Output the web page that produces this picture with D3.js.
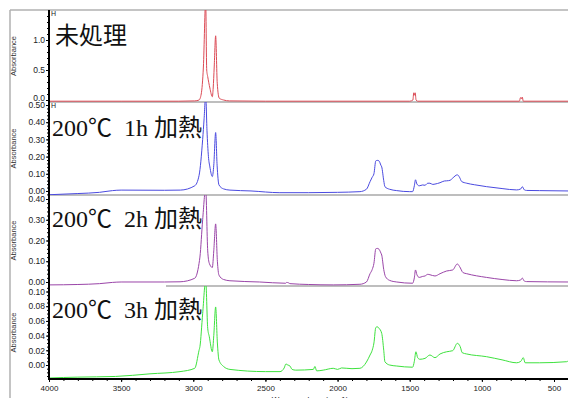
<!DOCTYPE html>
<html><head><meta charset="utf-8">
<script src="https://cdn.jsdelivr.net/npm/d3@7"></script>
<style>body{margin:0;background:#fff}svg{display:block}</style>
</head><body>
<svg id="c" width="568" height="398"></svg>
<script>
// ---------- data ----------
const panelLabels = ["未処理", "200℃  1h 加熱", "200℃  2h 加熱", "200℃  3h 加熱"];
const xTicks = [4000, 3500, 3000, 2500, 2000, 1500, 1000, 500];

const redWn  = [4000,3500,3100,2990,2960,2945,2930,2914,2907,2900,2885,2868,2862,2855,2845,2834,2820,2790,2750,2500,1500,1478,1472,1467,1462,1456,1445,740,732,726,720,713,400];
const redAbs = [-0.02,-0.02,-0.02,-0.015,0.0,0.1,0.55,1.65,0.5,0.39,0.2,0.055,0.2,0.55,1.07,0.28,0.03,0.0,-0.015,-0.02,-0.02,0.0,0.12,0.08,0.12,0.0,-0.02,-0.02,0.04,0.02,0.05,-0.02,-0.02];

const blueWn  = [4000,3800,3650,3560,3500,3200,3090,2990,2960,2935,2925,2914,2905,2895,2885,2868,2858,2845,2835,2822,2790,2746,2600,2400,2200,2000,1845,1800,1775,1760,1748,1735,1725,1713,1700,1694,1680,1672,1640,1590,1500,1480,1468,1460,1450,1434,1410,1394,1375,1360,1340,1325,1290,1260,1244,1220,1202,1170,1155,1140,1105,1050,967,860,759,730,720,705,690,600,400];
const blueAbs = [-0.022,-0.015,-0.008,0.002,0.005,0.004,0.005,0.03,0.09,0.3,0.42,0.56,0.35,0.2,0.14,0.084,0.15,0.34,0.15,0.035,0.012,0.005,0.0,-0.01,-0.01,-0.008,-0.004,0.01,0.054,0.08,0.1,0.175,0.178,0.175,0.15,0.14,0.06,0.025,0.01,0.002,-0.004,-0.004,0.03,0.065,0.04,0.03,0.035,0.033,0.045,0.045,0.038,0.04,0.048,0.058,0.059,0.062,0.075,0.094,0.08,0.055,0.045,0.036,0.025,0.014,0.006,0.012,0.025,0.006,0.003,0.002,0.0];

const purpleWn  = [4000,3800,3650,3560,3500,3200,3092,2990,2960,2954,2935,2914,2900,2889,2868,2858,2845,2833,2822,2790,2746,2540,2360,2353,2340,2330,2200,2030,1845,1800,1775,1760,1748,1735,1725,1713,1700,1694,1680,1668,1640,1590,1480,1468,1460,1450,1434,1410,1394,1375,1360,1325,1290,1244,1202,1170,1155,1130,1105,967,860,759,730,720,705,690,400];
const purpleAbs = [-0.014,-0.012,-0.008,-0.002,0.0,0.0,0.001,0.018,0.09,0.12,0.3,0.45,0.15,0.09,0.07,0.15,0.28,0.1,0.033,0.012,0.006,0.0,-0.006,-0.002,-0.004,-0.008,-0.012,-0.014,-0.011,0.0,0.04,0.06,0.09,0.16,0.162,0.158,0.14,0.13,0.06,0.026,0.008,0.0,-0.006,0.02,0.058,0.035,0.022,0.027,0.029,0.037,0.035,0.029,0.04,0.053,0.058,0.087,0.075,0.045,0.04,0.022,0.012,0.006,0.01,0.019,0.004,0.002,0.0];

const greenWn  = [4000,3900,3800,3540,3300,3092,2990,2960,2954,2935,2914,2900,2889,2868,2858,2845,2833,2822,2790,2746,2500,2399,2370,2358,2345,2330,2315,2290,2168,2157,2145,2100,2030,2000,1972,1900,1845,1800,1775,1760,1748,1735,1725,1713,1694,1680,1672,1640,1590,1480,1468,1457,1445,1430,1394,1360,1325,1290,1244,1202,1170,1150,1136,1105,967,860,759,730,713,700,600,412,400];
const greenAbs = [-0.0177,-0.017,-0.0165,-0.0156,-0.012,-0.009,-0.0045,0.02,0.025,0.07,0.115,0.05,0.0385,0.018,0.04,0.079,0.03,0.0068,-0.002,-0.006,-0.009,-0.009,-0.004,0.0014,0.0,-0.0014,-0.006,-0.007,-0.006,-0.002,-0.008,-0.007,-0.0045,-0.006,-0.004,-0.005,-0.0045,0.004,0.0136,0.02,0.03,0.051,0.052,0.05,0.043,0.02,0.0045,0.0,-0.0014,-0.003,0.005,0.018,0.01,0.0078,0.009,0.0136,0.01,0.015,0.018,0.0195,0.0295,0.025,0.0167,0.015,0.0113,0.007,0.003,0.005,0.01,0.003,0.003,0.0045,0.006];

const panelTicks = [[0, 0.5, 1.0], [0, 0.1, 0.2, 0.3, 0.4, 0.5], [0, 0.1, 0.2, 0.3, 0.4], [0, 0.02, 0.04, 0.06, 0.08, 0.10]];
const panelDomains = [[-0.0333, 1.5], [-0.0235, 0.5176], [-0.0193, 0.4193], [-0.01905, 0.1075]];

// ---------- layout ----------
const svg = d3.select("#c");
const L = 49, R = 568;
const bands = [[10, 102], [102, 195], [195, 286], [286, 379]];
const colors = ["#dc4a55", "#4a4ae0", "#9a45a8", "#3ee23e"];
const minorSteps = [0.1, 0.02, 0.02, 0.005];
const fmts = [d3.format(".1f"), d3.format(".2f"), d3.format(".2f"), d3.format(".2f")];
const labelBase = [44, 136, 227, 318];
const series = [[redWn, redAbs], [blueWn, blueAbs], [purpleWn, purpleAbs], [greenWn, greenAbs]];
const font = "Liberation Sans, Arial, sans-serif";

const x = d3.scaleLinear().domain([4000, 403]).range([L, R]);

// frame
svg.append("line").attr("x1", 10).attr("x2", 10).attr("y1", 10).attr("y2", 398).attr("stroke", "#b0b0b0").attr("stroke-width", 1.5);
svg.append("line").attr("x1", 10).attr("x2", R).attr("y1", 10).attr("y2", 10).attr("stroke", "#b0b0b0").attr("stroke-width", 1.5);

const defs = svg.append("defs");

bands.forEach((b, i) => {
  const y = d3.scaleLinear().domain(panelDomains[i]).range([b[1], b[0]]);
  defs.append("clipPath").attr("id", "cp" + i).append("rect")
    .attr("x", L).attr("y", b[0]).attr("width", R - L).attr("height", b[1] - b[0]);

  if (i < 3) {
    svg.append("line").attr("x1", i === 2 ? 166 : L).attr("x2", R)
      .attr("y1", b[1]).attr("y2", b[1]).attr("stroke", "#a8a8a8").attr("stroke-width", 1.5);
  }

  const pts = series[i][0].map((w, k) => [w, series[i][1][k]]);
  svg.append("path").datum(pts)
    .attr("clip-path", "url(#cp" + i + ")")
    .attr("fill", "none").attr("stroke", colors[i]).attr("stroke-width", 1)
    .attr("d", d3.line().x(d => x(d[0])).y(d => y(d[1])).curve(d3.curveMonotoneX));

  const lo = panelDomains[i][0], hi = panelDomains[i][1];
  const minor = d3.range(Math.ceil(lo / minorSteps[i]) * minorSteps[i], hi, minorSteps[i]);
  const ax = d3.axisLeft(y).tickValues(minor).tickSize(2).tickFormat("");
  svg.append("g").attr("transform", `translate(${L},0)`).call(ax)
    .call(g => g.select(".domain").remove())
    .selectAll("line").attr("stroke", "#000");
  const maj = d3.axisLeft(y).tickValues(panelTicks[i]).tickSize(3).tickFormat(fmts[i]).tickPadding(1);
  svg.append("g").attr("transform", `translate(${L},0)`).call(maj)
    .call(g => g.select(".domain").remove())
    .call(g => g.selectAll("text").attr("font-size", 8.5).attr("font-family", font).attr("fill", "#222"))
    .call(g => g.selectAll(".tick").filter(d => d === 0 && i === 0).select("text").attr("dy", "0.05em"));

  svg.append("text").attr("transform", `translate(16,${(b[0] + b[1]) / 2}) rotate(-90)`)
    .attr("text-anchor", "middle").attr("font-size", 7.5).attr("font-family", font)
    .attr("fill", "#333").text("Absorbance");

  svg.append("text").attr("x", i === 0 ? 55 : 52).attr("y", labelBase[i])
    .attr("font-size", 24).attr("font-family", i === 0 ? "Noto Sans CJK JP" : "Liberation Serif, 'Noto Sans CJK JP'")
    .attr("fill", "#111").style("white-space", "pre").text(panelLabels[i]);
});

// small H markers at panel tops
[[51, 16], [51, 108]].forEach(p => {
  svg.append("text").attr("x", p[0]).attr("y", p[1]).attr("font-size", 7)
    .attr("font-family", font).attr("fill", "#222").text("H");
});

// left axis thick line
svg.append("line").attr("x1", L).attr("x2", L).attr("y1", 10).attr("y2", 380).attr("stroke", "#000").attr("stroke-width", 2);

// bottom axis
const xb = d3.axisBottom(x).tickValues(d3.range(4000, 402, -100)).tickSize(2).tickFormat("");
svg.append("g").attr("transform", "translate(0,379)").call(xb)
  .call(g => g.select(".domain").remove());
const xm = d3.axisBottom(x).tickValues(xTicks).tickSize(3).tickPadding(3).tickFormat(d3.format("d"));
svg.append("g").attr("transform", "translate(0,379)").call(xm)
  .call(g => g.select(".domain").remove())
  .call(g => g.selectAll("text").attr("font-size", 8).attr("font-family", font).attr("fill", "#222"));
svg.append("line").attr("x1", L).attr("x2", R).attr("y1", 379).attr("y2", 379).attr("stroke", "#000").attr("stroke-width", 2);

svg.append("text").attr("x", 310).attr("y", 402).attr("text-anchor", "middle").attr("font-size", 8)
  .attr("font-family", font).attr("fill", "#222").text("Wavenumbers (cm-1)");
</script>
</body></html>
